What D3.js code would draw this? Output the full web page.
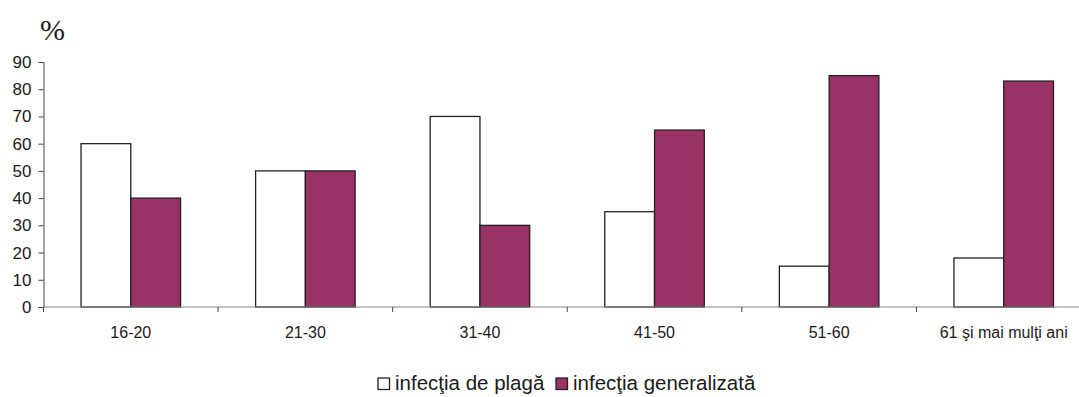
<!DOCTYPE html>
<html>
<head>
<meta charset="utf-8">
<script src="https://cdn.jsdelivr.net/npm/d3@7"></script>
<style>
  html, body { margin: 0; padding: 0; background: #fff; }
  svg { display: block; }
  text { font-family: "Liberation Sans", Arial, sans-serif; fill: #1a1a1a; }
</style>
</head>
<body>
<svg id="chart" width="1079" height="397"></svg>
<script>
// Age groups and the share (%) of each type of infection
const categories = ["16-20", "21-30", "31-40", "41-50", "51-60", "61 şi mai mulţi ani"];
const seriesNames = ["infecţia de plagă", "infecţia generalizată"];
const plaga = [60, 50, 70, 35, 15, 18];
const generalizata = [40, 50, 30, 65, 85, 83];
const yTicks = [0, 10, 20, 30, 40, 50, 60, 70, 80, 90];
const colors = ["#ffffff", "#993366"];

const svg = d3.select("#chart");
const plotLeft = 43.5, plotRight = 1091, plotTop = 62, plotBottom = 307;

const x0 = d3.scaleBand().domain(categories).range([plotLeft, plotRight])
  .paddingInner(0.43).paddingOuter(0.215);
const x1 = d3.scaleBand().domain(seriesNames).range([0, x0.bandwidth()]);
const y = d3.scaleLinear().domain([0, 90]).range([plotBottom, plotTop]);

const rows = categories.map((c, i) => ({ cat: c, vals: [plaga[i], generalizata[i]] }));

// bars
const groups = svg.append("g").selectAll("g").data(rows).join("g")
  .attr("transform", d => `translate(${x0(d.cat)},0)`);
groups.selectAll("rect")
  .data(d => d.vals.map((v, j) => ({ name: seriesNames[j], v, j })))
  .join("rect")
  .attr("x", d => x1(d.name))
  .attr("y", d => y(d.v))
  .attr("width", x1.bandwidth())
  .attr("height", d => y(0) - y(d.v))
  .attr("fill", d => colors[d.j])
  .attr("stroke", "#222")
  .attr("stroke-width", 1.3);

// y axis
const yAxis = svg.append("g").attr("transform", `translate(${plotLeft},0)`)
  .call(d3.axisLeft(y).tickValues(yTicks).tickSize(5).tickPadding(7));
yAxis.select(".domain").attr("stroke", "#444");
yAxis.selectAll(".tick line").attr("stroke", "#444");
yAxis.selectAll("text").attr("font-size", 17).style("fill", "#1a1a1a")
  .style("font-family", "Liberation Sans, Arial, sans-serif");

// x axis: baseline with ticks at category boundaries
const xAxis = svg.append("g");
xAxis.append("line")
  .attr("x1", plotLeft).attr("x2", plotRight)
  .attr("y1", plotBottom).attr("y2", plotBottom)
  .attr("stroke", "#888").attr("stroke-width", 1.2);
const boundaries = categories.map((c, i) => i === 0 ? plotLeft : x0(c) - x0.step() * x0.paddingInner() / 2);
xAxis.selectAll("line.tick").data(boundaries).join("line")
  .attr("class", "tick")
  .attr("x1", d => d).attr("x2", d => d)
  .attr("y1", plotBottom).attr("y2", plotBottom + 5)
  .attr("stroke", "#444");
xAxis.selectAll("text").data(categories).join("text")
  .attr("x", d => x0(d) + x0.bandwidth() / 2)
  .attr("y", plotBottom + 31)
  .attr("text-anchor", "middle")
  .attr("font-size", 16)
  .text(d => d);

// unit label
svg.append("text")
  .attr("x", 40).attr("y", 40)
  .attr("font-size", 30)
  .style("font-family", "Liberation Serif, 'Times New Roman', serif")
  .text("%");

// legend
const legend = svg.append("g").attr("transform", "translate(378,390)");
const lx = [0, 178];
seriesNames.forEach((name, i) => {
  legend.append("rect")
    .attr("x", lx[i]).attr("y", -12)
    .attr("width", 11.5).attr("height", 11.5)
    .attr("fill", colors[i]).attr("stroke", "#222").attr("stroke-width", 1.3);
  legend.append("text")
    .attr("x", lx[i] + 17).attr("y", 0)
    .attr("font-size", 20.5)
    .text(name);
});
</script>
</body>
</html>
